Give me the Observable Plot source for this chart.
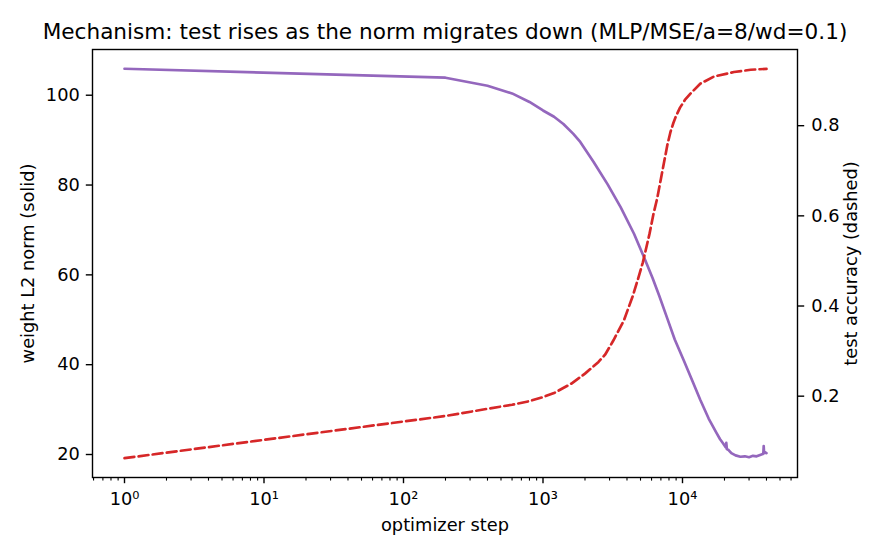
<!DOCTYPE html>
<html>
<head>
<meta charset="utf-8">
<script src="https://cdn.jsdelivr.net/npm/d3@7"></script>
<script src="https://cdn.jsdelivr.net/npm/@observablehq/plot@0.6"></script>
<style>
  html, body { margin: 0; padding: 0; background: white; }
</style>
</head>
<body>
<div id="chart"></div>
<script>
const title = "Mechanism: test rises as the norm migrates down (MLP/MSE/a=8/wd=0.1)";
const xLabel = "optimizer step";
const yLeftLabel = "weight L2 norm (solid)";
const yRightLabel = "test accuracy (dashed)";

// weight L2 norm (solid, left axis)
const normSteps = [1, 200, 400, 600, 800, 1000, 1200, 1400, 1650, 1850, 2300, 2900, 3600, 4500, 5300, 6100, 6800, 7800, 8800, 10200, 11800, 13400, 15400, 17600, 18600, 19400, 20400, 20600, 20800, 21400, 22400, 24000, 26000, 28000, 30000, 32000, 34000, 36000, 37600, 38000, 38200, 38400, 38600, 39000, 40000];
const normValues = [105.9, 103.9, 102.1, 100.4, 98.5, 96.6, 95.2, 93.6, 91.4, 89.6, 85.2, 80.2, 75.1, 69.1, 63.9, 59.3, 55.4, 50.2, 45.6, 41.0, 36.3, 32.2, 28.0, 24.7, 23.4, 22.6, 21.6, 22.6, 21.2, 21.0, 20.3, 19.8, 19.5, 19.6, 19.4, 19.7, 19.6, 19.9, 20.1, 20.4, 21.9, 20.6, 20.3, 20.5, 20.3];

// test accuracy (dashed, right axis)
const accSteps = [1, 200, 400, 600, 800, 1000, 1200, 1600, 2000, 2200, 2500, 2800, 3200, 3800, 4400, 4800, 5200, 5800, 6200, 6600, 7000, 7800, 8200, 8600, 9000, 9600, 10400, 11400, 13400, 16800, 23400, 30800, 40000];
const accValues = [0.0625, 0.156, 0.172, 0.181, 0.189, 0.198, 0.207, 0.228, 0.250, 0.261, 0.276, 0.293, 0.324, 0.368, 0.422, 0.460, 0.497, 0.560, 0.605, 0.640, 0.682, 0.758, 0.786, 0.806, 0.822, 0.840, 0.857, 0.871, 0.893, 0.909, 0.919, 0.924, 0.926];

const xMajorTicks = [1, 10, 100, 1000, 10000];
const xMinorTicks = [];
for (let k = -1; k <= 4; k++) for (let m = 2; m <= 9; m++) xMinorTicks.push(m * Math.pow(10, k));
const yLeftTicks = [20, 40, 60, 80, 100];
const yRightTicks = [0.2, 0.4, 0.6, 0.8];

const normData = normSteps.map((s, i) => ({step: s, norm: normValues[i]}));
const accData = accSteps.map((s, i) => ({step: s, acc: accValues[i]}));

const xDomain = [Math.pow(10, -0.2294), Math.pow(10, 4.8244)];
const leftDomain = [14.88, 110.18];
const rightDomain = [0.0196, 0.969];
const toLeft = a => leftDomain[0] + (a - rightDomain[0]) / (rightDomain[1] - rightDomain[0]) * (leftDomain[1] - leftDomain[0]);
const fromLeft = v => rightDomain[0] + (v - leftDomain[0]) / (leftDomain[1] - leftDomain[0]) * (rightDomain[1] - rightDomain[0]);

const supMap = {"0": "\u2070", "1": "\u00b9", "2": "\u00b2", "3": "\u00b3", "4": "\u2074", "-": "\u207b"};
const sup = n => String(n).split("").map(c => supMap[c]).join("");

const FS = 17.8;
const chart = Plot.plot({
  width: 884,
  height: 559,
  marginLeft: 92,
  marginRight: 87,
  marginTop: 49,
  marginBottom: 82,
  style: {fontFamily: "DejaVu Sans", fontSize: FS + "px", background: "white", color: "black"},
  x: {type: "log", domain: xDomain},
  y: {domain: leftDomain},
  marks: [
    Plot.line(normData, {x: "step", y: "norm", stroke: "#9467bd", strokeWidth: 2.67}),
    Plot.line(accData, {x: "step", y: d => toLeft(d.acc), stroke: "#d62728", strokeWidth: 2.67, strokeDasharray: "9.9,4.3"}),
    Plot.frame({stroke: "black", strokeWidth: 1.4}),
    Plot.axisX({ticks: xMajorTicks, tickFormat: d => "10" + sup(Math.round(Math.log10(d))), tickSize: 6.2, tickPadding: 8.5, strokeWidth: 1.4, label: null, fontSize: FS}),
    Plot.axisX({ticks: xMinorTicks.filter(t => t >= xDomain[0] && t <= xDomain[1]), tickFormat: () => "", tickSize: 3.6, strokeWidth: 1.1, label: null}),
    Plot.axisY({anchor: "left", ticks: yLeftTicks, tickSize: 6.2, tickPadding: 6.5, strokeWidth: 1.4, label: null, fontSize: FS}),
    Plot.axisY({anchor: "right", ticks: yRightTicks.map(toLeft), tickFormat: v => d3.format(".1f")(fromLeft(v)), tickSize: 6.2, tickPadding: 7.5, strokeWidth: 1.4, label: null, fontSize: FS}),
    Plot.text([title], {text: d => d, frameAnchor: "top", textAnchor: "middle", lineAnchor: "middle", dy: -17.5, fontSize: 21.6}),
    Plot.text([xLabel], {text: d => d, frameAnchor: "bottom", textAnchor: "middle", lineAnchor: "middle", dy: 48, fontSize: FS}),
    Plot.text([yLeftLabel], {text: d => d, frameAnchor: "left", textAnchor: "middle", lineAnchor: "middle", dx: -64, rotate: -90, fontSize: FS}),
    Plot.text([yRightLabel], {text: d => d, frameAnchor: "right", textAnchor: "middle", lineAnchor: "middle", dx: 54, rotate: -90, fontSize: FS})
  ]
});
document.getElementById("chart").appendChild(chart);
</script>
</body>
</html>
